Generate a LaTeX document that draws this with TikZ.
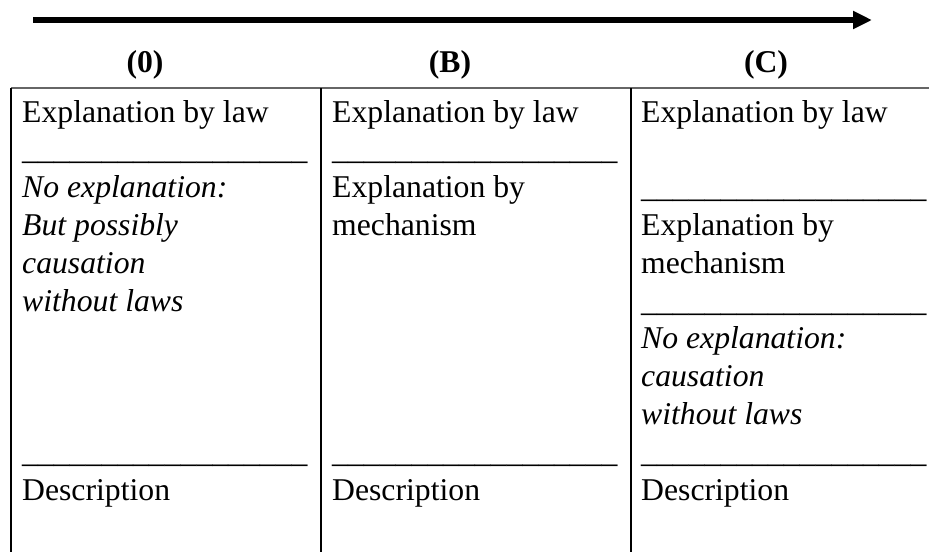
\documentclass[tikz,border=0pt]{standalone}
\usepackage{fontspec}
\setmainfont{Liberation Serif}
\usetikzlibrary{arrows.meta}
% a row of underscores, as typed in the cells
\newcommand\barrow{\_\_\_\_\_\_\_\_\_\_\_\_\_\_\_\_\_\_}
\begin{document}
\begin{tikzpicture}[x=1pt,y=-1pt,
  cellfont/.style={font=\fontsize{31.7}{38}\selectfont},
  txt/.style={cellfont,anchor=base west,inner sep=0pt},
  emtxt/.style={txt,font=\fontsize{31.7}{38}\selectfont\itshape},
  head/.style={anchor=base,inner sep=0pt,font=\fontsize{31.7}{38}\selectfont\bfseries},
  rule/.style={line width=1.3pt,black},
  toprule/.style={line width=2pt,black!60},
  timeline/.style={line width=5.4pt,-{Triangle[length=19pt,width=17pt]}},
]
\useasboundingbox (0,0) rectangle (929,552);
\clip (0,0) rectangle (929,552);

% time arrow
\coordinate (tail) at (33,20);
\coordinate (tip) at (872,20);
\draw[timeline] (tail) -- (tip);

% column headings
\node[head] (h0) at (145,72) {(0)};
\node[head] (hB) at (450,72) {(B)};
\node[head] (hC) at (766,72) {(C)};

% table frame
\draw[toprule] (11,88) -- (929,88);
\draw[rule] (11,88) -- (11,552);
\draw[rule] (321,88) -- (321,552);
\draw[rule] (631,88) -- (631,552);

% column (0)
\node[txt]   (a1)  at (22,122)   {Explanation by law};
\node[txt]   (a2)  at (22,159.8) {\barrow};
\node[emtxt] (a3)  at (22,197.6) {No explanation:};
\node[emtxt] (a4)  at (22,235.4) {But possibly};
\node[emtxt] (a5)  at (22,273.2) {causation};
\node[emtxt] (a6)  at (22,311)   {without laws};
\node[txt]   (a10) at (22,462.2) {\barrow};
\node[txt]   (a11) at (22,500)   {Description};

% column (B)
\node[txt] (b1)  at (332,122)   {Explanation by law};
\node[txt] (b2)  at (332,159.8) {\barrow};
\node[txt] (b3)  at (332,197.6) {Explanation by};
\node[txt] (b4)  at (332,235.4) {mechanism};
\node[txt] (b10) at (332,462.2) {\barrow};
\node[txt] (b11) at (332,500)   {Description};

% column (C)
\node[txt]   (c1)  at (641,122)   {Explanation by law};
\node[txt]   (c3)  at (641,197.6) {\barrow};
\node[txt]   (c4)  at (641,235.4) {Explanation by};
\node[txt]   (c5)  at (641,273.2) {mechanism};
\node[txt]   (c6)  at (641,311)   {\barrow};
\node[emtxt] (c7)  at (641,348.8) {No explanation:};
\node[emtxt] (c8)  at (641,386.6) {causation};
\node[emtxt] (c9)  at (641,424.4) {without laws};
\node[txt]   (c10) at (641,462.2) {\barrow};
\node[txt]   (c11) at (641,500)   {Description};
\end{tikzpicture}
\end{document}
